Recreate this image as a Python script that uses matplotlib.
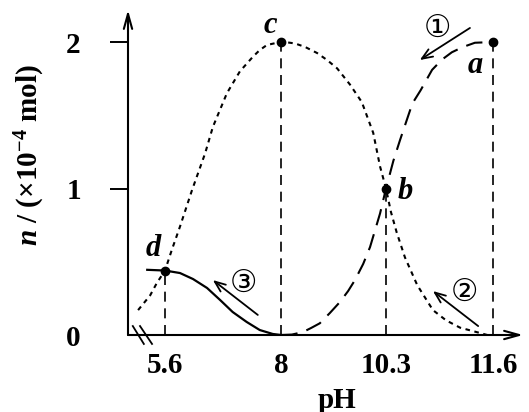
import numpy as np
import matplotlib
matplotlib.use('Agg')
import matplotlib.pyplot as plt
from matplotlib.scale import FuncScale

plt.rcParams['font.family'] = 'Liberation Serif'
plt.rcParams['font.weight'] = 'bold'
plt.rcParams['mathtext.fontset'] = 'custom'
plt.rcParams['mathtext.rm'] = 'Liberation Serif:bold'
plt.rcParams['mathtext.it'] = 'Liberation Serif:bold:italic'

# tick values
ph_ticks = [5.6, 8, 10.3, 11.6]
n_ticks = [0, 1, 2]

# marked points d, c, b, a
pt_names = ['d', 'c', 'b', 'a']
pt_ph = [5.6, 8.0, 10.3, 11.6]
pt_n = [0.44, 2.0, 1.0, 2.0]

# short-dash curve (rises to c, falls through b)
dot_ph = [5.04, 5.29, 5.43, 5.60, 5.74, 5.91, 6.16, 6.43, 6.59, 6.88, 7.15, 7.42,
          7.56, 7.71, 7.85, 8.00, 8.15, 8.31, 8.53, 8.79, 9.01, 9.23, 9.51, 9.77,
          10.02, 10.17, 10.30, 10.36, 10.43, 10.53, 10.68, 10.87, 11.03, 11.20,
          11.44, 11.53]
dot_n = [0.17, 0.27, 0.355, 0.44, 0.58, 0.74, 0.99, 1.24, 1.42, 1.65, 1.80, 1.90,
         1.945, 1.98, 1.99, 2.00, 1.997, 1.99, 1.966, 1.925, 1.877, 1.82, 1.71,
         1.59, 1.38, 1.15, 1.00, 0.84, 0.70, 0.53, 0.34, 0.17, 0.10, 0.05,
         0.014, 0.0]

# long-dash curve (8 -> b -> a)
dash_ph = [8.00, 8.24, 8.48, 8.66, 8.85, 9.07, 9.29, 9.47, 9.62, 9.80, 9.95,
           10.17, 10.30, 10.39, 10.47, 10.62, 10.72, 10.86, 10.98, 11.10, 11.23,
           11.38, 11.60]
dash_n = [0.0, 0.003, 0.02, 0.048, 0.08, 0.15, 0.225, 0.30, 0.375, 0.485, 0.60,
          0.83, 1.00, 1.19, 1.33, 1.58, 1.67, 1.81, 1.88, 1.93, 1.965,
          1.995, 2.0]

# solid curve (d -> 8)
sol_ph = [5.23, 5.60, 5.91, 6.18, 6.47, 6.74, 7.00, 7.29, 7.56, 7.83, 8.00]
sol_n = [0.445, 0.44, 0.423, 0.382, 0.321, 0.239, 0.157, 0.089, 0.034, 0.007, 0.0]

# the pH axis is drawn schematically, not to scale
knot_ph = [4.83, 5.6, 8.0, 10.3, 11.6, 11.96]
knot_pos = [0, 37, 153, 258, 365, 395]
fwd = lambda x: np.interp(x, knot_ph, knot_pos)
inv = lambda p: np.interp(p, knot_pos, knot_ph)

fig = plt.figure(figsize=(5.29, 4.12), dpi=100)
ax = fig.add_axes([128/529, 77/412, 395/529, 329.6/412])
ax.set_xscale(FuncScale(ax, (fwd, inv)))
ax.set_xlim(4.83, 11.96)
ax.set_ylim(0, 2.25)
for s in ax.spines.values():
    s.set_visible(False)

# axes with arrows
ax.annotate('', xy=(0, 0.986), xytext=(0, 0), xycoords='axes fraction',
            arrowprops=dict(arrowstyle='->,head_length=0.9,head_width=0.25',
                            lw=1.5, color='k', mutation_scale=12, shrinkA=0, shrinkB=0))
ax.annotate('', xy=(1.0, 0), xytext=(0, 0), xycoords='axes fraction',
            arrowprops=dict(arrowstyle='->,head_length=0.9,head_width=0.25',
                            lw=1.5, color='k', mutation_scale=12, shrinkA=0, shrinkB=0))

# axis break
for x0, x1 in [(4.93, 5.16), (5.08, 5.33)]:
    ax.plot([x0, x1], [0.061, -0.061], color='k', lw=1.3, clip_on=False)

ax.set_yticks(n_ticks)
ax.set_yticklabels([str(v) for v in n_ticks], fontsize=21)
ax.tick_params(axis='y', direction='out', length=13, width=1.4, pad=21)
ax.yaxis.get_major_ticks()[0].tick1line.set_visible(False)
ax.set_xticks(ph_ticks)
ax.set_xticklabels([str(v) for v in ph_ticks], fontsize=21)
ax.tick_params(axis='x', length=0, pad=12)
ax.minorticks_off()

# guide lines
ax.vlines(pt_ph, 0, pt_n, colors='k', lw=1.2, linestyles=(0, (6, 4)))

ax.plot(dot_ph, dot_n, color='k', lw=1.5, linestyle=(0, (2.2, 2.2)))
ax.plot(dash_ph, dash_n, color='k', lw=1.5, linestyle=(0, (8, 4.5)))
ax.plot(sol_ph, sol_n, color='k', lw=1.6)
ax.plot(pt_ph, pt_n, 'o', color='k', ms=6)

lab_xy = {'d': (5.35, 0.59), 'c': (7.77, 2.11), 'b': (10.53, 0.98), 'a': (11.38, 1.84)}
for name in pt_names:
    ax.text(*lab_xy[name], name, fontsize=22, style='italic', fontweight='bold',
            ha='center', va='center')

# direction arrows
arrows = [('\u2460', (11.32, 2.096), (10.71, 1.877), (10.93, 2.09)),
          ('\u2461', (11.42, 0.061), (10.87, 0.30), (11.25, 0.29)),
          ('\u2462', (7.52, 0.137), (6.59, 0.375), (7.23, 0.355))]
for sym, p0, p1, pl in arrows:
    ax.annotate('', xy=p1, xytext=p0,
                arrowprops=dict(arrowstyle='->,head_length=0.55,head_width=0.22',
                                lw=1.3, color='k', mutation_scale=14, shrinkA=0, shrinkB=0))
    ax.text(*pl, sym, family='DejaVu Sans', fontweight='normal', fontsize=22,
            ha='center', va='center')

fig.text(337/529, 1 - 400/412, 'pH', fontsize=21, ha='center', va='center')
fig.text(30/529, 1 - 155/412, r'$\mathit{n}$ / (×10$^{-4}$ mol)', fontsize=21,
         rotation=90, ha='center', va='center')

fig.savefig('out.png', dpi=100)
